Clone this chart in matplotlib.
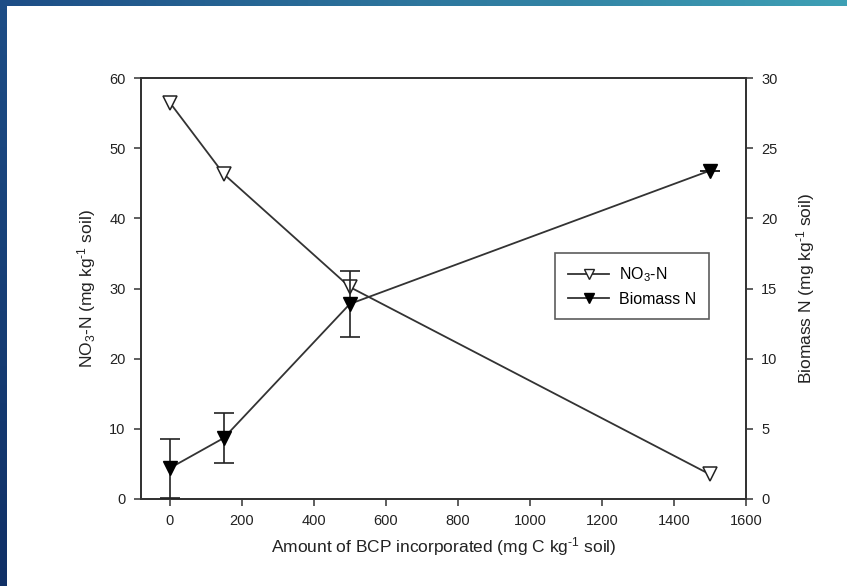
import numpy as np
import matplotlib
matplotlib.use("Agg")
import matplotlib.pyplot as plt
from matplotlib.patches import Rectangle
from matplotlib.lines import Line2D

plt.rcParams['font.family'] = ['Liberation Sans', 'DejaVu Sans']
plt.rcParams['mathtext.fontset'] = 'custom'
plt.rcParams['mathtext.rm'] = 'Liberation Sans'
plt.rcParams['mathtext.it'] = 'Liberation Sans:italic'
plt.rcParams['mathtext.default'] = 'regular'

# Data
bcp = [0, 150, 500, 1500]
no3_n = [56.5, 46.3, 30.2, 3.5]
biomass_n = [2.2, 4.35, 13.9, 23.4]
biomass_err = [2.1, 1.8, 2.35, 0.0]

x_ticks = [0, 200, 400, 600, 800, 1000, 1200, 1400, 1600]
left_ticks = [0, 10, 20, 30, 40, 50, 60]
right_ticks = [0, 5, 10, 15, 20, 25, 30]

W, H = 847, 586
fig = plt.figure(figsize=(W / 100, H / 100), dpi=100)
fig.patch.set_facecolor('white')

# blue frame background
bg = fig.add_axes([0, 0, 1, 1], zorder=-10)
bg.set_axis_off()
gx = np.linspace(0, 1, 256)
gy = np.linspace(0, 1, 64)
GX, GY = np.meshgrid(gx, gy)
c_left = np.array([0x1d, 0x4d, 0x86]) / 255
c_right = np.array([0x3e, 0xa0, 0xb5]) / 255
c_bot = np.array([0x10, 0x30, 0x66]) / 255
img = (c_left[None, None, :] * (1 - GX[..., None]) + c_right[None, None, :] * GX[..., None])
mix = (GY[..., None]) * (1 - GX[..., None])
img = img * (1 - mix) + c_bot[None, None, :] * mix
bg.imshow(img[::-1], extent=[0, 1, 0, 1], aspect='auto', origin='lower')
bg.add_patch(Rectangle((7 / W, 0), 1 - 7 / W, 1 - 6 / H, facecolor='white', edgecolor='none'))
bg.set_xlim(0, 1)
bg.set_ylim(0, 1)

ax = fig.add_axes([141 / W, 87 / H, (746 - 141) / W, (499 - 78) / H])
ax2 = ax.twinx()

lc = '#333333'
ax.plot(bcp, no3_n, color=lc, lw=1.3, marker='v', markersize=10,
        markerfacecolor='white', markeredgecolor='#222222', markeredgewidth=1.1, zorder=3)
ax2.errorbar(bcp, biomass_n, yerr=biomass_err, color=lc, lw=1.3, marker='v', markersize=10,
             markerfacecolor='black', markeredgecolor='black', ecolor='#222222',
             elinewidth=1.2, capsize=7, capthick=1.2, zorder=3)

ax.set_xlim(-80, 1600)
ax.set_ylim(0, 60)
ax2.set_ylim(0, 30)
ax.set_xticks(x_ticks)
ax.set_yticks(left_ticks)
ax2.set_yticks(right_ticks)

for a in (ax, ax2):
    for s in a.spines.values():
        s.set_linewidth(1.3)
        s.set_color('#333333')
    a.tick_params(direction='out', length=5, width=1.1, labelsize=10.5, colors='#333333',
                  labelcolor='#222222', pad=6)

sup = '$^{\\text{-}1}$'
ax.set_xlabel('Amount of BCP incorporated (mg C kg' + sup + ' soil)', fontsize=12.5, color='#222222', labelpad=5)
ax.set_ylabel('NO$_3$-N (mg kg' + sup + ' soil)', fontsize=12.5, color='#222222', labelpad=8)
ax2.set_ylabel('Biomass N (mg kg' + sup + ' soil)', fontsize=12.5, color='#222222', labelpad=12)

h1 = Line2D([], [], color=lc, lw=1.3, marker='v', markersize=7,
            markerfacecolor='white', markeredgecolor='#222222')
h2 = Line2D([], [], color=lc, lw=1.3, marker='v', markersize=7,
            markerfacecolor='black', markeredgecolor='black')
leg = ax2.legend([h1, h2], ['NO$_3$-N', 'Biomass N'], loc='upper left',
                 bbox_to_anchor=((555 - 141) / (746 - 141), (499 - 253) / (499 - 78)),
                 fontsize=11.5, frameon=True, fancybox=False, handlelength=2.6,
                 borderpad=0.8, labelspacing=0.45, handletextpad=0.6, borderaxespad=0)
leg.get_frame().set_edgecolor('#333333')
leg.get_frame().set_linewidth(1.2)

fig.savefig('out.png', dpi=100)
